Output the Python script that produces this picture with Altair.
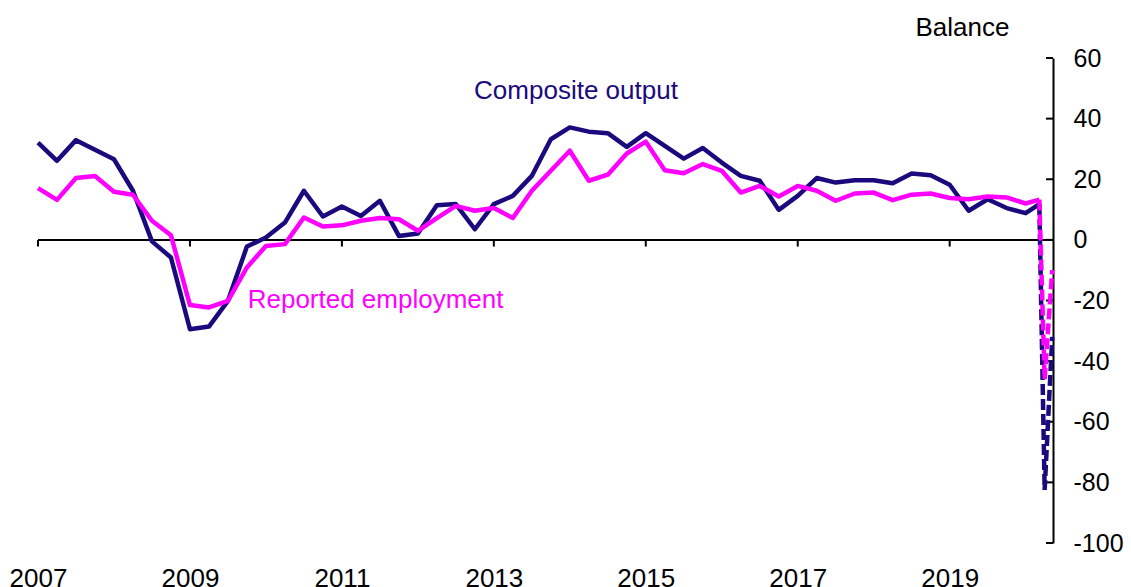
import altair as alt
import pandas as pd

# ---------------- data ----------------
quarter_dates = [2007 + 0.25 * i for i in range(53)] + [2020.18]

composite = [32.1, 26.1, 32.9, 29.7, 26.6, 16.2, -0.5, -5.8, -29.5, -28.6,
             -20.1, -2.2, 0.8, 5.7, 16.2, 7.7, 11.0, 7.9, 12.9, 1.3,
             2.1, 11.4, 11.8, 3.5, 11.8, 14.5, 21.1, 33.2, 37.1, 35.7,
             35.2, 30.7, 35.2, 31.0, 26.8, 30.3, 25.5, 21.1, 19.5, 9.9,
             14.5, 20.4, 18.9, 19.7, 19.7, 18.7, 21.9, 21.3, 18.2, 9.6,
             13.4, 10.5, 8.8, 11.8]

employment = [17.1, 13.2, 20.4, 21.1, 15.9, 14.9, 6.3, 1.5, -21.5, -22.3,
              -20.1, -9.1, -2.0, -1.4, 7.4, 4.4, 4.8, 6.3, 7.2, 6.8,
              3.0, 7.2, 11.2, 9.6, 10.5, 7.2, 16.2, 22.8, 29.4, 19.5,
              21.5, 28.5, 32.4, 23.0, 22.0, 25.0, 22.8, 15.6, 17.8, 14.3,
              17.8, 16.2, 12.9, 15.3, 15.6, 13.1, 14.9, 15.3, 13.8, 13.4,
              14.3, 14.0, 12.0, 13.3]

flash_dates = [2020.18, 2020.25, 2020.35]
flash_composite = [11.8, -82.5, -32.0]
flash_employment = [13.3, -46.0, -10.0]

x_labels = [2007, 2009, 2011, 2013, 2015, 2017, 2019]
y_ticks = [-100, -80, -60, -40, -20, 0, 20, 40, 60]
series_names = ["Composite output", "Reported employment"]

NAVY = "#1A0A7E"
MAGENTA = "#FF00FF"
FONT = "Liberation Sans"
W, H = 1015, 485

# ---------------- tables ----------------
solid = pd.DataFrame({
    "date": quarter_dates * 2,
    "value": composite + employment,
    "series": [series_names[0]] * len(composite) + [series_names[1]] * len(employment),
})
dashed = pd.DataFrame({
    "date": flash_dates * 2,
    "value": flash_composite + flash_employment,
    "series": [series_names[0]] * 3 + [series_names[1]] * 3,
})
xticks_df = pd.DataFrame({"date": x_labels})
yticks_df = pd.DataFrame({"value": y_ticks})
one_row = pd.DataFrame({"k": [0]})

# ---------------- encodings ----------------
x = alt.X("date:Q", title=None,
          scale=alt.Scale(domain=[2007, 2020.36], nice=False, zero=False),
          axis=alt.Axis(values=x_labels, format="d", domain=False, ticks=False,
                        grid=False, labelFontSize=26, labelFont=FONT,
                        labelColor="black", labelPadding=22, labelFlush=False,
                        labelOverlap=False))
y = alt.Y("value:Q", title="Balance",
          scale=alt.Scale(domain=[-100, 60], nice=False, zero=False),
          axis=alt.Axis(orient="right", values=y_ticks, ticks=False, domain=True,
                        domainColor="black", domainWidth=2, grid=False,
                        labelExpr="'' + datum.value",
                        labelFontSize=25, labelFont=FONT, labelColor="black",
                        labelPadding=20, labelAlign="left", labelOverlap=False,
                        titleAngle=0, titleAlign="left", titleBaseline="alphabetic",
                        titleX=-138, titleY=-23, titleFontSize=26,
                        titleFont=FONT, titleFontWeight="normal", titleColor="black"))
color = alt.Color("series:N", legend=None,
                  scale=alt.Scale(domain=series_names, range=[NAVY, MAGENTA]))

zero_line = alt.Chart(one_row).mark_rule(color="black", strokeWidth=2).encode(
    y=alt.datum(0))

zero_ticks = alt.Chart(xticks_df).mark_rule(color="black", strokeWidth=2).encode(
    x=x, y=alt.datum(0), y2=alt.datum(-2.2))

right_ticks = alt.Chart(yticks_df).mark_rule(color="black", strokeWidth=2).encode(
    y=y, x=alt.value(W - 7), x2=alt.value(W))

lines = alt.Chart(solid).mark_line(strokeWidth=4.5, strokeJoin="round").encode(
    x=x, y=y, color=color, order=alt.Order("date:Q"))

dash_lines = alt.Chart(dashed).mark_line(strokeWidth=4.5, strokeDash=[11, 4]).encode(
    x=x, y=y, color=color, order=alt.Order("date:Q"))

lab_comp = alt.Chart(one_row).mark_text(
    align="left", baseline="alphabetic", fontSize=26, font=FONT, color=NAVY,
    text="Composite output").encode(x=alt.datum(2012.74), y=alt.datum(46.4))

lab_emp = alt.Chart(one_row).mark_text(
    align="left", baseline="alphabetic", fontSize=26, font=FONT, color=MAGENTA,
    text="Reported employment").encode(x=alt.datum(2009.76), y=alt.datum(-22.4))

chart = alt.layer(
    zero_line, zero_ticks, right_ticks, lines, dash_lines, lab_comp, lab_emp
).properties(
    width=W, height=H,
    autosize=alt.AutoSizeParams(type="none"),
    padding={"left": 30, "top": 50, "right": 70, "bottom": 44},
).configure(background="white").configure_view(stroke=None)

chart.save("out.html", embed_options={"renderer": "svg", "actions": False})
